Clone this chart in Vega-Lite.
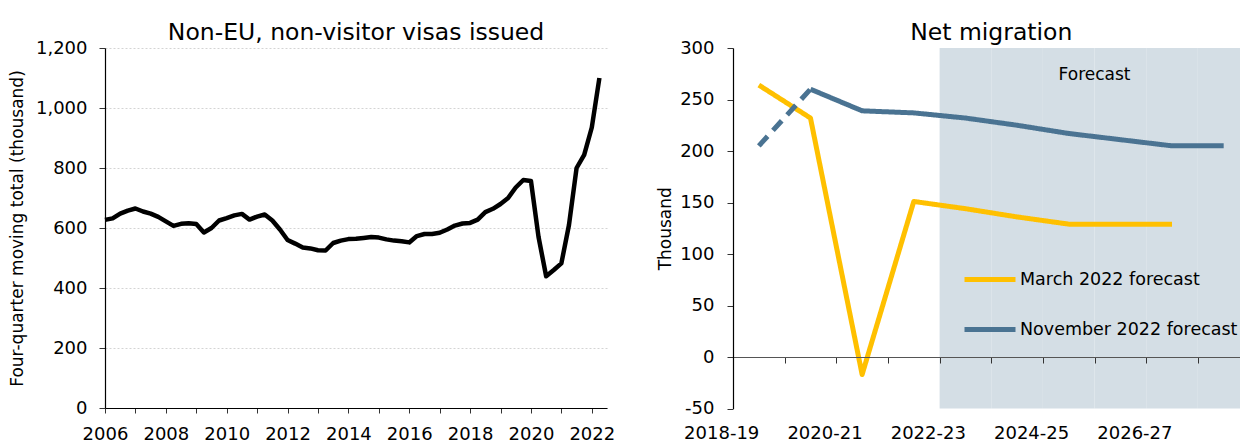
{
  "$schema": "https://vega.github.io/schema/vega-lite/v6.json",
  "background": "white",
  "padding": {"left": 8, "top": 21, "right": 0, "bottom": 0},
  "spacing": 41,
  "resolve": {"legend": {"color": "independent", "strokeDash": "independent"}},
  "config": {
    "font": "DejaVu Sans",
    "view": {"stroke": null},
    "axis": {
      "labelFont": "DejaVu Sans", "titleFont": "DejaVu Sans",
      "labelColor": "#000", "titleColor": "#000",
      "labelFontSize": 18, "titleFontSize": 17, "titleFontWeight": "normal",
      "domainColor": "#000", "domainWidth": 1.2, "tickColor": "#333",
      "gridColor": "#d4d4d4", "gridDash": [2, 2], "gridWidth": 1
    },
    "title": {"font": "DejaVu Sans", "fontSize": 23.5, "fontWeight": "normal", "color": "#000", "anchor": "middle", "baseline": "alphabetic"},
    "legend": {"labelFont": "DejaVu Sans"}
  },
  "datasets": {
    "visas": [
      {"t": 2006.00, "v": 627}, {"t": 2006.25, "v": 632}, {"t": 2006.50, "v": 648}, {"t": 2006.75, "v": 658},
      {"t": 2007.00, "v": 665}, {"t": 2007.25, "v": 655}, {"t": 2007.50, "v": 648}, {"t": 2007.75, "v": 637},
      {"t": 2008.00, "v": 622}, {"t": 2008.25, "v": 607}, {"t": 2008.50, "v": 614}, {"t": 2008.75, "v": 616},
      {"t": 2009.00, "v": 613}, {"t": 2009.25, "v": 585}, {"t": 2009.50, "v": 600}, {"t": 2009.75, "v": 625},
      {"t": 2010.00, "v": 633}, {"t": 2010.25, "v": 642}, {"t": 2010.50, "v": 647}, {"t": 2010.75, "v": 628},
      {"t": 2011.00, "v": 638}, {"t": 2011.25, "v": 645}, {"t": 2011.50, "v": 625}, {"t": 2011.75, "v": 595},
      {"t": 2012.00, "v": 560}, {"t": 2012.25, "v": 548}, {"t": 2012.50, "v": 535}, {"t": 2012.75, "v": 532},
      {"t": 2013.00, "v": 526}, {"t": 2013.25, "v": 525}, {"t": 2013.50, "v": 550}, {"t": 2013.75, "v": 558},
      {"t": 2014.00, "v": 563}, {"t": 2014.25, "v": 564}, {"t": 2014.50, "v": 567}, {"t": 2014.75, "v": 570},
      {"t": 2015.00, "v": 568}, {"t": 2015.25, "v": 562}, {"t": 2015.50, "v": 558}, {"t": 2015.75, "v": 556},
      {"t": 2016.00, "v": 552}, {"t": 2016.25, "v": 573}, {"t": 2016.50, "v": 580}, {"t": 2016.75, "v": 580},
      {"t": 2017.00, "v": 584}, {"t": 2017.25, "v": 595}, {"t": 2017.50, "v": 608}, {"t": 2017.75, "v": 615},
      {"t": 2018.00, "v": 617}, {"t": 2018.25, "v": 628}, {"t": 2018.50, "v": 653}, {"t": 2018.75, "v": 664},
      {"t": 2019.00, "v": 680}, {"t": 2019.25, "v": 700}, {"t": 2019.50, "v": 735}, {"t": 2019.75, "v": 760},
      {"t": 2020.00, "v": 757}, {"t": 2020.25, "v": 570}, {"t": 2020.50, "v": 439}, {"t": 2020.75, "v": 460},
      {"t": 2021.00, "v": 482}, {"t": 2021.25, "v": 610}, {"t": 2021.50, "v": 800}, {"t": 2021.75, "v": 844},
      {"t": 2022.00, "v": 935}, {"t": 2022.25, "v": 1100}
    ],
    "shade": [
      {"period": "2022-23"}, {"period": "2023-24"}, {"period": "2024-25"},
      {"period": "2025-26"}, {"period": "2026-27"}, {"period": "2027-28"}
    ],
    "note": [{"period": "2025-26", "label": "Forecast", "y": 274}],
    "migration": [
      {"period": "2018-19", "series": "March 2022 forecast", "part": "solid", "value": 264},
      {"period": "2019-20", "series": "March 2022 forecast", "part": "solid", "value": 232},
      {"period": "2020-21", "series": "March 2022 forecast", "part": "solid", "value": -17},
      {"period": "2021-22", "series": "March 2022 forecast", "part": "solid", "value": 151},
      {"period": "2022-23", "series": "March 2022 forecast", "part": "solid", "value": 144},
      {"period": "2023-24", "series": "March 2022 forecast", "part": "solid", "value": 136},
      {"period": "2024-25", "series": "March 2022 forecast", "part": "solid", "value": 129},
      {"period": "2025-26", "series": "March 2022 forecast", "part": "solid", "value": 129},
      {"period": "2026-27", "series": "March 2022 forecast", "part": "solid", "value": 129},
      {"period": "2018-19", "series": "November 2022 forecast", "part": "dash", "value": 205},
      {"period": "2019-20", "series": "November 2022 forecast", "part": "dash", "value": 260},
      {"period": "2019-20", "series": "November 2022 forecast", "part": "solid", "value": 260},
      {"period": "2020-21", "series": "November 2022 forecast", "part": "solid", "value": 239},
      {"period": "2021-22", "series": "November 2022 forecast", "part": "solid", "value": 237},
      {"period": "2022-23", "series": "November 2022 forecast", "part": "solid", "value": 232},
      {"period": "2023-24", "series": "November 2022 forecast", "part": "solid", "value": 225},
      {"period": "2024-25", "series": "November 2022 forecast", "part": "solid", "value": 217},
      {"period": "2025-26", "series": "November 2022 forecast", "part": "solid", "value": 211},
      {"period": "2026-27", "series": "November 2022 forecast", "part": "solid", "value": 205},
      {"period": "2027-28", "series": "November 2022 forecast", "part": "solid", "value": 205}
    ]
  },
  "hconcat": [
    {
      "width": 502,
      "height": 360,
      "title": {"text": "Non-EU, non-visitor visas issued", "offset": -5.6},
      "data": {"name": "visas"},
      "mark": {"type": "line", "color": "#000", "strokeWidth": 4.5, "strokeJoin": "round"},
      "encoding": {
        "x": {
          "field": "t", "type": "quantitative",
          "scale": {"domain": [2006, 2022.5], "nice": false, "zero": false},
          "axis": {
            "title": null, "grid": false, "format": "d",
            "values": [2006, 2007, 2008, 2009, 2010, 2011, 2012, 2013, 2014, 2015, 2016, 2017, 2018, 2019, 2020, 2021, 2022],
            "labelExpr": "datum.value % 2 == 0 ? datum.label : ''",
            "labelOverlap": false, "labelFlush": false,
            "tickSize": 5, "labelPadding": 12
          }
        },
        "y": {
          "field": "v", "type": "quantitative",
          "scale": {"domain": [0, 1200], "nice": false},
          "axis": {
            "title": "Four-quarter moving total (thousand)", "format": ",d",
            "values": [0, 200, 400, 600, 800, 1000, 1200],
            "tickSize": 6, "labelPadding": 12, "titlePadding": 9
          }
        }
      }
    },
    {
      "width": 516.5,
      "height": 360.5,
      "title": {"text": "Net migration", "offset": -5.6},
      "layer": [
        {
          "data": {"name": "shade"},
          "mark": {"type": "rect", "color": "#D4DEE5"},
          "encoding": {
            "x": {"field": "period", "type": "nominal"},
            "y": {"datum": -50, "type": "quantitative"},
            "y2": {"datum": 300}
          }
        },
        {
          "data": {"name": "note"},
          "mark": {"type": "text", "fontSize": 17, "color": "#000", "baseline": "middle", "align": "center"},
          "encoding": {
            "x": {"field": "period", "type": "nominal", "bandPosition": 0},
            "y": {"field": "y", "type": "quantitative"},
            "text": {"field": "label"}
          }
        },
        {
          "data": {"name": "migration"},
          "mark": {"type": "line", "strokeWidth": 5, "strokeJoin": "round"},
          "encoding": {
            "x": {
              "field": "period", "type": "nominal",
              "scale": {
                "domain": ["2018-19", "2019-20", "2020-21", "2021-22", "2022-23", "2023-24", "2024-25", "2025-26", "2026-27", "2027-28"],
                "paddingInner": 0, "paddingOuter": 0
              },
              "axis": {
                "title": null, "labelAngle": 0, "tickBand": "extent",
                "labelExpr": "indexof(['2018-19','2020-21','2022-23','2024-25','2026-27'], datum.value) >= 0 ? datum.value : ''",
                "labelOverlap": false,
                "offset": -51.5, "tickSize": 6, "labelPadding": 70,
                "domainColor": "#555", "tickColor": "#333", "zindex": 1
              }
            },
            "y": {
              "field": "value", "type": "quantitative",
              "scale": {"domain": [-50, 300], "nice": false},
              "axis": {
                "title": "Thousand",
                "values": [-50, 0, 50, 100, 150, 200, 250, 300],
                "labelExpr": "datum.value < 0 ? '-' + abs(datum.value) : datum.label",
                "tickSize": 6, "labelPadding": 13, "titlePadding": 5, "zindex": 1
              }
            },
            "color": {
              "field": "series", "type": "nominal",
              "scale": {"domain": ["March 2022 forecast", "November 2022 forecast"], "range": ["#FFC000", "#4A7392"]},
              "legend": {
                "title": null, "orient": "none", "legendX": 229, "legendY": 203.5,
                "symbolType": "stroke", "symbolSize": 2601, "symbolStrokeWidth": 5,
                "labelFontSize": 17.5, "labelColor": "#000", "labelOffset": 2, "rowPadding": 12,
                "labelLimit": 400
              }
            },
            "strokeDash": {
              "field": "part", "type": "nominal",
              "scale": {"domain": ["solid", "dash"], "range": [[1, 0], [13, 8]]},
              "legend": null
            }
          }
        }
      ]
    }
  ]
}
